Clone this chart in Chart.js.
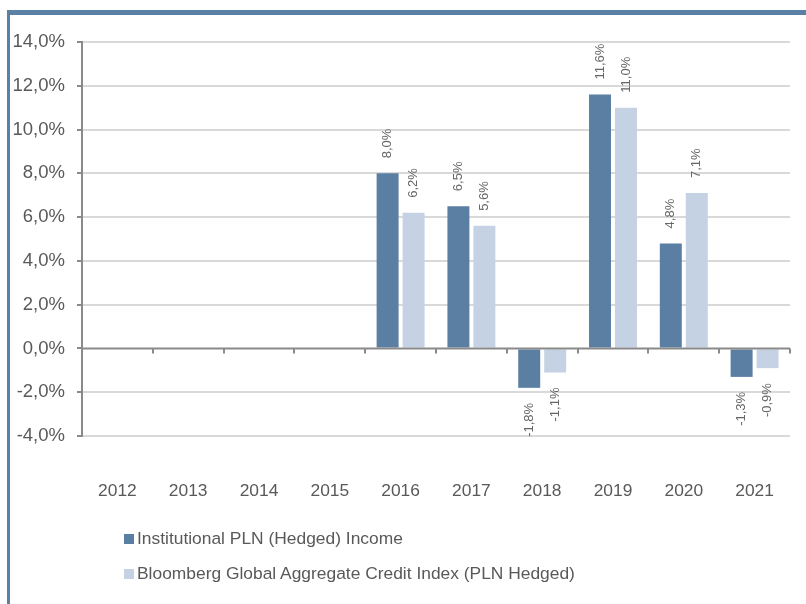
<!DOCTYPE html>
<html>
<head>
<meta charset="utf-8">
<script src="https://cdn.jsdelivr.net/npm/chart.js@4"></script>
<style>
  html, body { margin: 0; padding: 0; background: #fff; }
  body { width: 806px; height: 604px; position: relative; overflow: hidden;
         font-family: "Liberation Sans", Arial, sans-serif; }
  #frame { position: absolute; left: 7px; top: 10px; right: 0; bottom: 0;
           border-top: 5px solid #5b80a6; border-left: 3px solid #5b80a6; }
  #wrap { position: absolute; left: 0; top: 0; width: 806px; height: 604px; }
  #legend { position: absolute; left: 124px; top: 527px; color: #595959; font-size: 17.4px; }
  #legend .item { height: 22px; line-height: 22px; margin-bottom: 13px; white-space: nowrap; }
  #legend .box { display: inline-block; width: 10px; height: 10px; margin-right: 3px; vertical-align: 0px; }
</style>
</head>
<body>
<div id="frame"></div>
<div id="wrap"><canvas id="myChart" width="806" height="604"></canvas></div>
<div id="legend"></div>
<script>
const years = ["2012", "2013", "2014", "2015", "2016", "2017", "2018", "2019", "2020", "2021"];
const fundValues = [null, null, null, null, 8.0, 6.5, -1.8, 11.6, 4.8, -1.3];
const indexValues = [null, null, null, null, 6.2, 5.6, -1.1, 11.0, 7.1, -0.9];
const seriesNames = ["Institutional PLN (Hedged) Income", "Bloomberg Global Aggregate Credit Index (PLN Hedged)"];
const seriesColors = ["#5b7fa3", "#c5d2e3"];

const fmt = (v) => v.toFixed(1).replace(".", ",") + "%";
const textColor = "#595959";
const font = "Liberation Sans, Arial, sans-serif";

// zero line with small downward ticks between categories
const zeroAxis = {
  id: "zeroAxis",
  afterDatasetsDraw(chart) {
    const { ctx, chartArea } = chart;
    const x = chart.scales.x;
    const y0 = chart.scales.y.getPixelForValue(0);
    ctx.save();
    ctx.strokeStyle = "#8a8a8a";
    ctx.lineWidth = 2;
    ctx.beginPath();
    ctx.moveTo(chartArea.left, y0);
    ctx.lineTo(chartArea.right, y0);
    const step = (chartArea.right - chartArea.left) / years.length;
    for (let i = 1; i <= years.length; i++) {
      const px = Math.round(x.getPixelForValue(i - 1) + step / 2);
      ctx.moveTo(px, y0);
      ctx.lineTo(px, y0 + 5);
    }
    ctx.stroke();
    ctx.restore();
  }
};

// rotated value labels
const valueLabels = {
  id: "valueLabels",
  afterDatasetsDraw(chart) {
    const { ctx } = chart;
    ctx.save();
    ctx.fillStyle = "#666666";
    ctx.font = "13px " + font;
    ctx.textBaseline = "middle";
    chart.data.datasets.forEach((ds, di) => {
      const meta = chart.getDatasetMeta(di);
      meta.data.forEach((bar, i) => {
        const v = ds.data[i];
        if (v === null) return;
        ctx.save();
        if (v >= 0) {
          ctx.translate(bar.x, bar.y - 15);
          ctx.rotate(-Math.PI / 2);
          ctx.textAlign = "left";
        } else {
          ctx.translate(bar.x, bar.y + 15);
          ctx.rotate(-Math.PI / 2);
          ctx.textAlign = "right";
        }
        ctx.fillText(fmt(v), 0, 0);
        ctx.restore();
      });
    });
    ctx.restore();
  }
};

new Chart("myChart", {
  type: "bar",
  data: {
    labels: years,
    datasets: [
      { label: seriesNames[0], data: fundValues, backgroundColor: seriesColors[0],
        categoryPercentage: 0.734, barPercentage: 0.846 },
      { label: seriesNames[1], data: indexValues, backgroundColor: seriesColors[1],
        categoryPercentage: 0.734, barPercentage: 0.846 }
    ]
  },
  options: {
    responsive: false,
    animation: false,
    layout: { padding: { left: 0, right: 16, top: 42, bottom: 98 } },
    scales: {
      x: {
        grid: { display: false, drawTicks: false },
        border: { display: false },
        ticks: { color: textColor, font: { size: 17.4, family: font }, padding: 45, maxRotation: 0 },
        afterFit: (scale) => {
          scale.height = 70;
          scale.paddingLeft = 0;
          scale.paddingRight = 0;
        }
      },
      y: {
        min: -4,
        max: 14,
        grid: {
          color: (c) => (c.tick && c.tick.value === 0 ? "rgba(0,0,0,0)" : "#d9d9d9"),
          lineWidth: 2,
          tickLength: 5,
          tickColor: "#8a8a8a"
        },
        border: { color: "#8a8a8a", width: 2 },
        ticks: {
          stepSize: 2,
          color: textColor,
          padding: 12,
          font: { size: 18.5, family: font },
          callback: (v) => fmt(v)
        },
        afterFit: (scale) => { scale.width = 82; }
      }
    },
    plugins: {
      legend: { display: false },
      tooltip: { enabled: false }
    }
  },
  plugins: [zeroAxis, valueLabels]
});

// legend built from the same names and colours
const legend = document.getElementById("legend");
seriesNames.forEach((name, i) => {
  const item = document.createElement("div");
  item.className = "item";
  const box = document.createElement("span");
  box.className = "box";
  box.style.background = seriesColors[i];
  item.appendChild(box);
  item.appendChild(document.createTextNode(name));
  legend.appendChild(item);
});
</script>
</body>
</html>
